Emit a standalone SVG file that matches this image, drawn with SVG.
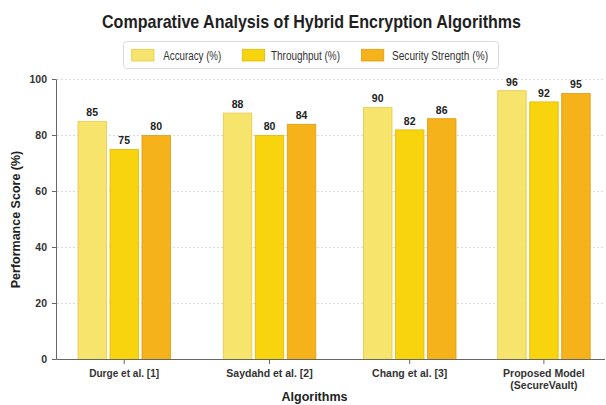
<svg xmlns="http://www.w3.org/2000/svg" width="606" height="405" viewBox="0 0 606 405">
<style>
.t{font-family:"Liberation Sans",Arial,sans-serif}
.title{font-size:18.5px;font-weight:bold;fill:#1f1f24}
.leg{font-size:12px;fill:#333}
.tick{font-size:10.5px;font-weight:bold;fill:#333}
.val{font-size:10.5px;font-weight:bold;fill:#222;text-anchor:middle}
.xl{font-size:10.5px;font-weight:bold;fill:#333;text-anchor:middle}
.al{font-size:12.5px;font-weight:bold;fill:#222;text-anchor:middle}
.grid{stroke:#cfcfcf;stroke-width:0.8;stroke-dasharray:2 2}
.axis{stroke:#666;stroke-width:1;fill:none}
.acc{fill:#F7E46C;stroke:#E6C84A;stroke-width:0.8}
.thr{fill:#F8D40E;stroke:#E2B806;stroke-width:0.8}
.sec{fill:#F6B21A;stroke:#E29A12;stroke-width:0.8}
</style>
<rect width="606" height="405" fill="#fff"/>
<text class="t title" x="102" y="28.3" textLength="419" lengthAdjust="spacingAndGlyphs">Comparative Analysis of Hybrid Encryption Algorithms</text>
<g id="legend">
<rect x="123.5" y="41.5" width="375" height="27" rx="3" fill="#fff" stroke="#dcdcdc"/>
<rect class="acc" x="131.7" y="49.3" width="22.3" height="11.7"/>
<text class="t leg" x="163.3" y="59.5" textLength="58" lengthAdjust="spacingAndGlyphs">Accuracy (%)</text>
<rect class="thr" x="242.3" y="49.3" width="22.3" height="11.7"/>
<text class="t leg" x="271" y="59.5" textLength="69" lengthAdjust="spacingAndGlyphs">Throughput (%)</text>
<rect class="sec" x="361.5" y="49.3" width="22.3" height="11.7"/>
<text class="t leg" x="392" y="59.5" textLength="96" lengthAdjust="spacingAndGlyphs">Security Strength (%)</text>
</g>
<g id="grid">
<line class="grid" x1="57" y1="79.5" x2="605" y2="79.5"/>
<line class="grid" x1="57" y1="135.5" x2="605" y2="135.5"/>
<line class="grid" x1="57" y1="191.5" x2="605" y2="191.5"/>
<line class="grid" x1="57" y1="247.5" x2="605" y2="247.5"/>
<line class="grid" x1="57" y1="303.5" x2="605" y2="303.5"/>
</g>
<g id="bars">
<g id="durge">
<rect class="acc" x="78" y="121.5" width="28.5" height="238"/>
<rect class="thr" x="110" y="149.5" width="28.5" height="210"/>
<rect class="sec" x="142" y="135.5" width="28.5" height="224"/>
<text class="t val" x="92.2" y="116.3">85</text>
<text class="t val" x="124.2" y="144.3">75</text>
<text class="t val" x="156.2" y="130.3">80</text>
</g>
<g id="saydahd">
<rect class="acc" x="223.3" y="113.1" width="28.5" height="246.4"/>
<rect class="thr" x="255.3" y="135.5" width="28.5" height="224"/>
<rect class="sec" x="287.3" y="124.3" width="28.5" height="235.2"/>
<text class="t val" x="237.5" y="107.9">88</text>
<text class="t val" x="269.5" y="130.3">80</text>
<text class="t val" x="301.5" y="119.1">84</text>
</g>
<g id="chang">
<rect class="acc" x="363.5" y="107.5" width="28.5" height="252"/>
<rect class="thr" x="395.5" y="129.9" width="28.5" height="229.6"/>
<rect class="sec" x="427.5" y="118.7" width="28.5" height="240.8"/>
<text class="t val" x="377.7" y="102.3">90</text>
<text class="t val" x="409.7" y="124.7">82</text>
<text class="t val" x="441.7" y="113.5">86</text>
</g>
<g id="proposed">
<rect class="acc" x="497.7" y="90.7" width="28.5" height="268.8"/>
<rect class="thr" x="529.7" y="101.9" width="28.5" height="257.6"/>
<rect class="sec" x="561.7" y="93.5" width="28.5" height="266"/>
<text class="t val" x="511.9" y="85.5">96</text>
<text class="t val" x="543.9" y="96.7">92</text>
<text class="t val" x="575.9" y="88.3">95</text>
</g>
</g>
<g id="axes">
<line class="axis" x1="56.5" y1="79.5" x2="56.5" y2="359.5"/>
<line class="axis" x1="56.5" y1="359.5" x2="605" y2="359.5"/>
<g class="axis">
<line x1="52" y1="79.5" x2="56.5" y2="79.5"/>
<line x1="52" y1="135.5" x2="56.5" y2="135.5"/>
<line x1="52" y1="191.5" x2="56.5" y2="191.5"/>
<line x1="52" y1="247.5" x2="56.5" y2="247.5"/>
<line x1="52" y1="303.5" x2="56.5" y2="303.5"/>
<line x1="52" y1="359.5" x2="56.5" y2="359.5"/>
<line x1="124.2" y1="359.5" x2="124.2" y2="364"/>
<line x1="269.5" y1="359.5" x2="269.5" y2="364"/>
<line x1="409.7" y1="359.5" x2="409.7" y2="364"/>
<line x1="543.9" y1="359.5" x2="543.9" y2="364"/>
</g>
<g class="t tick" text-anchor="end">
<text x="47" y="83.2">100</text>
<text x="47" y="139.2">80</text>
<text x="47" y="195.2">60</text>
<text x="47" y="251.2">40</text>
<text x="47" y="307.2">20</text>
<text x="47" y="363.2">0</text>
</g>
<text class="t xl" x="124.2" y="376.5" textLength="70" lengthAdjust="spacingAndGlyphs">Durge et al. [1]</text>
<text class="t xl" x="269.5" y="376.5">Saydahd et al. [2]</text>
<text class="t xl" x="409.7" y="376.5">Chang et al. [3]</text>
<text class="t xl" x="543.9" y="376.5">Proposed Model</text>
<text class="t xl" x="543.9" y="388.5">(SecureVault)</text>
<text class="t al" x="314.5" y="401">Algorithms</text>
<text class="t al" transform="translate(19.5,219.5) rotate(-90)" x="0" y="0">Performance Score (%)</text>
</g>
</svg>
